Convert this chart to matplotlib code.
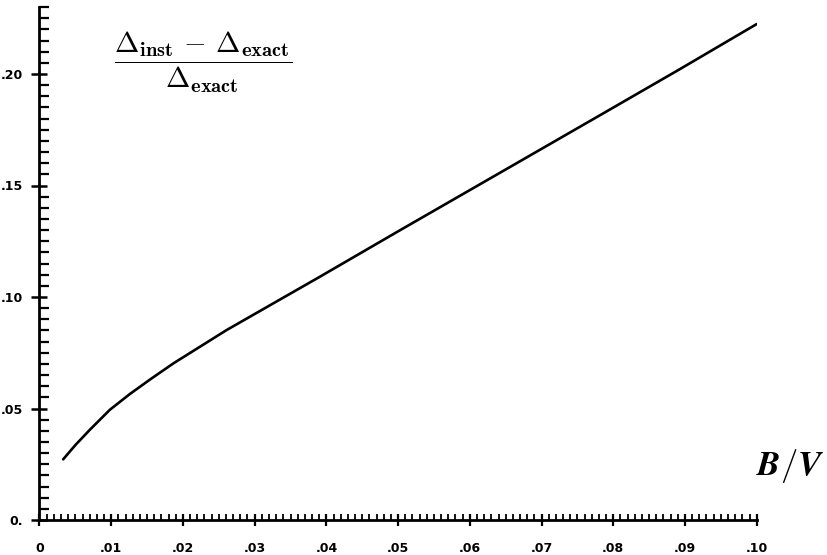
import matplotlib
matplotlib.use("Agg")
import matplotlib.pyplot as plt
from matplotlib.ticker import MultipleLocator, FixedLocator

# Data
b_over_v = [0.0033, 0.0050, 0.0070, 0.0098, 0.0126, 0.0155, 0.0187, 0.0261,
            0.0391, 0.0503, 0.0642, 0.0782, 0.0893, 0.1000]
rel_err = [0.0272, 0.0336, 0.0404, 0.0494, 0.0565, 0.0632, 0.0703, 0.0852,
           0.1091, 0.1300, 0.1557, 0.1816, 0.2022, 0.2224]

x_ticks = [0, 0.01, 0.02, 0.03, 0.04, 0.05, 0.06, 0.07, 0.08, 0.09, 0.10]
x_labels = ["0", ".01", ".02", ".03", ".04", ".05", ".06", ".07", ".08", ".09", ".10"]
y_ticks = [0, 0.05, 0.10, 0.15, 0.20]
y_labels = ["0.", ".05", ".10", ".15", ".20"]

plt.rcParams['mathtext.fontset'] = 'cm'

fig = plt.figure(figsize=(8.28, 5.55), dpi=100)
ax = fig.add_axes([39.5/828, 35/555, (756.7-39.5)/828, (520-7.1)/555])

ax.plot(b_over_v, rel_err, color='black', lw=1.9, solid_capstyle='round',
        solid_joinstyle='round')

ax.set_xlim(0, 0.10)
ax.set_ylim(0, 0.23)

for s in ['top', 'right']:
    ax.spines[s].set_visible(False)
for s in ['left', 'bottom']:
    ax.spines[s].set_linewidth(2.0)

ax.xaxis.set_major_locator(FixedLocator(x_ticks))
ax.set_xticklabels(x_labels)
ax.xaxis.set_minor_locator(MultipleLocator(0.001))
ax.yaxis.set_major_locator(FixedLocator(y_ticks))
ax.set_yticklabels(y_labels)
ax.yaxis.set_minor_locator(MultipleLocator(0.005))

ax.tick_params(axis='x', which='major', direction='inout', length=8, width=1.6,
               pad=12, labelsize=9)
ax.tick_params(axis='x', which='minor', direction='in', length=4, width=1.3)
ax.tick_params(axis='y', which='major', direction='inout', length=12, width=1.8,
               pad=6, labelsize=9)
ax.tick_params(axis='y', which='minor', direction='in', length=7, width=1.6)
for lab in ax.get_xticklabels() + ax.get_yticklabels():
    lab.set_fontweight('bold')
    lab.set_family('DejaVu Sans')

fig.text(203/828, 1 - 62/555,
         r'$\dfrac{\Delta_{\mathbf{inst}}\,-\,\Delta_{\mathbf{exact}}}{\Delta_{\mathbf{exact}}}$',
         fontsize=21, ha='center', va='center')
fig.text(824/828, 1 - 466/555, r'$\boldsymbol{B/V}$', fontsize=25, ha='right', va='center')

fig.savefig('out.png', dpi=100, facecolor='white')
